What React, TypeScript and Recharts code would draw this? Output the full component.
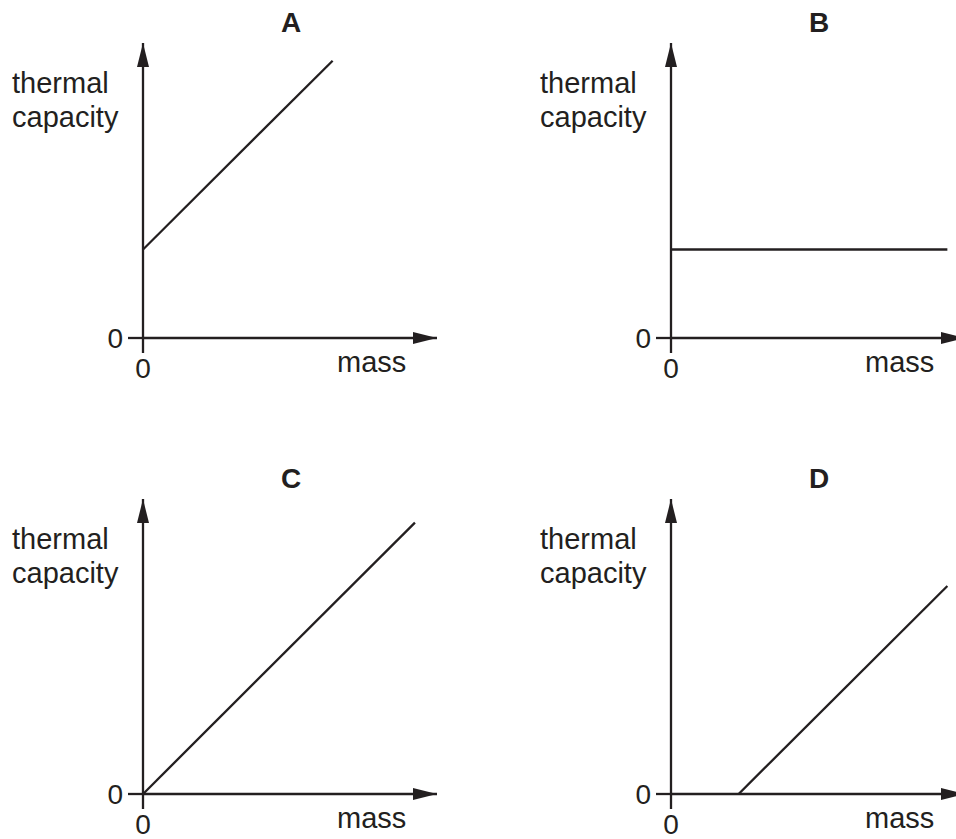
import { Label, Line, LineChart, XAxis, YAxis } from 'recharts';

// values, in plot units (axis arrows end at 10)
const massA = [0, 6.45];
const capacityA = [3.0, 9.4];
const massB = [0, 9.4];
const capacityB = [3.0, 3.0];
const massC = [0, 9.25];
const capacityC = [0, 9.2];
const massD = [2.3, 9.4];
const capacityD = [0, 7.05];

const panelTitles = ['A', 'B', 'C', 'D'];
const yLabelLines = ['thermal', 'capacity'];
const xLabel = 'mass';
const xTicks = [0];
const yTicks = [0];

const INK = '#231f20';
const FONT = '"Liberation Sans", Arial, Helvetica, sans-serif';

const toRows = (mass: number[], capacity: number[]) => mass.map((m, i) => ({ m, c: capacity[i] }));

const panels = [
    { title: panelTitles[0], data: toRows(massA, capacityA), left: 0, top: 0 },
    { title: panelTitles[1], data: toRows(massB, capacityB), left: 528, top: 0 },
    { title: panelTitles[2], data: toRows(massC, capacityC), left: 0, top: 456 },
    { title: panelTitles[3], data: toRows(massD, capacityD), left: 528, top: 456 },
];

function YCaption({ viewBox }: any) {
    const axisX = viewBox.x + viewBox.width;
    return (
        <text x={axisX - 131} y={viewBox.y + 50} fill={INK} fontSize={29} fontFamily={FONT}>
            <tspan x={axisX - 131}>{yLabelLines[0]}</tspan>
            <tspan x={axisX - 131} dy={34}>
                {yLabelLines[1]}
            </tspan>
        </text>
    );
}

function PanelTitle({ viewBox, title }: any) {
    const axisX = viewBox.x + viewBox.width;
    return (
        <text x={axisX + 148} y={viewBox.y - 11} fill={INK} fontSize={28} fontWeight="bold" fontFamily={FONT} textAnchor="middle">
            {title}
        </text>
    );
}

function XCaption({ viewBox }: any) {
    return (
        <text x={viewBox.x + 194} y={viewBox.y + 34} fill={INK} fontSize={29} fontFamily={FONT}>
            {xLabel}
        </text>
    );
}

function Panel({ title, data, id }: { title: string; data: { m: number; c: number }[]; id: string }) {
    const arrowId = `arrow-${id}`;
    return (
        <LineChart width={460} height={400} data={data} margin={{ top: 43, right: 23, bottom: 32, left: 83 }}>
            <defs>
                <marker
                    id={arrowId}
                    viewBox="0 0 24 12"
                    refX={24}
                    refY={6}
                    markerWidth={24}
                    markerHeight={12}
                    markerUnits="userSpaceOnUse"
                    orient="auto-start-reverse"
                >
                    <path d="M0,0 L24,6 L0,12 Z" fill={INK} />
                </marker>
            </defs>
            <XAxis
                dataKey="m"
                type="number"
                domain={[0, 10]}
                ticks={xTicks}
                height={30}
                stroke={INK}
                axisLine={{ stroke: INK, strokeWidth: 2.3, markerEnd: `url(#${arrowId})` }}
                tickLine={{ stroke: INK, strokeWidth: 2.3 }}
                tickSize={15}
                tickMargin={5}
                tick={{ fill: INK, fontSize: 28, fontFamily: FONT }}
                allowDataOverflow
            >
                <Label content={<XCaption />} />
            </XAxis>
            <YAxis
                type="number"
                domain={[0, 10]}
                ticks={yTicks}
                width={60}
                stroke={INK}
                axisLine={{ stroke: INK, strokeWidth: 2.3, markerStart: `url(#${arrowId})` }}
                tickLine={{ stroke: INK, strokeWidth: 2.3 }}
                tickSize={15}
                tickMargin={5}
                tick={{ fill: INK, fontSize: 28, fontFamily: FONT }}
                allowDataOverflow
            >
                <Label content={<YCaption />} />
                <Label content={<PanelTitle title={title} />} />
            </YAxis>
            <Line type="linear" dataKey="c" stroke={INK} strokeWidth={2.3} dot={false} isAnimationActive={false} />
        </LineChart>
    );
}

export default function App() {
    return (
        <div style={{ position: 'absolute', left: 0, top: 0, width: 956, height: 839, overflow: 'hidden', background: '#fff' }}>
            {panels.map((p, i) => (
                <div key={p.title} style={{ position: 'absolute', left: p.left, top: p.top }}>
                    <Panel title={p.title} data={p.data} id={`p${i}`} />
                </div>
            ))}
        </div>
    );
}
